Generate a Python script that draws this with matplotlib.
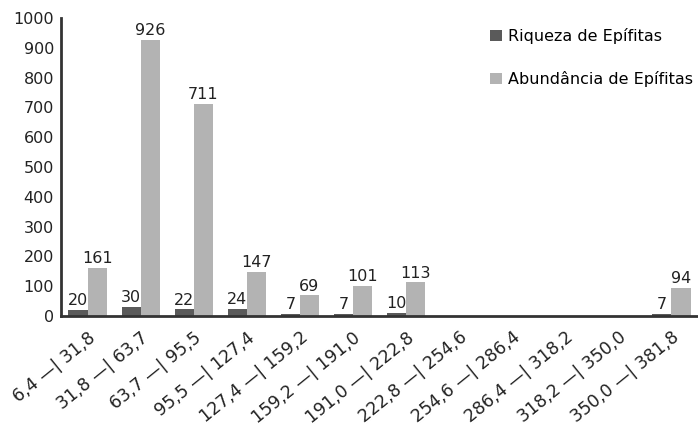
import matplotlib
matplotlib.use("Agg")
import matplotlib.pyplot as plt
import numpy as np

classes = ["6,4 —| 31,8", "31,8 —| 63,7", "63,7 —| 95,5", "95,5 —| 127,4",
           "127,4 —| 159,2", "159,2 —| 191,0", "191,0 —| 222,8", "222,8 —| 254,6",
           "254,6 —| 286,4", "286,4 —| 318,2", "318,2 —| 350,0", "350,0 —| 381,8"]
riqueza = [20, 30, 22, 24, 7, 7, 10, 0, 0, 0, 0, 7]
abundancia = [161, 926, 711, 147, 69, 101, 113, 0, 0, 0, 0, 94]

plt.rcParams['font.family'] = ['DejaVu Sans']
fig = plt.figure(figsize=(6.98, 4.28), dpi=100)
ax = fig.add_axes([61/698, 112/428, 637/698, 298/428])

x = np.arange(len(classes))
w = 0.36
c_dark = "#5a5a5a"
c_light = "#b3b3b3"
b1 = ax.bar(x - w/2, riqueza, w, color=c_dark, label="Riqueza de Epífitas")
b2 = ax.bar(x + w/2, abundancia, w, color=c_light, label="Abundância de Epífitas")

for bars, vals in ((b1, riqueza), (b2, abundancia)):
    for r, v in zip(bars, vals):
        if v > 0:
            ax.text(r.get_x() + r.get_width()/2, v + 6, str(v), ha="center",
                    va="bottom", fontsize=11.5, color="#222222")

ax.set_xlim(-0.5, len(classes) - 0.5)
ax.set_ylim(0, 1000)
ax.set_yticks(range(0, 1001, 100))
ax.set_xticks(x)
ax.set_xticklabels(classes, rotation=39, ha="right", rotation_mode="anchor",
                   fontsize=12.5, color="#222222")
ax.tick_params(axis="x", length=0, pad=9)
ax.tick_params(axis="y", length=0, labelsize=11.5, labelcolor="#222222", pad=5)
for s in ("top", "right"):
    ax.spines[s].set_visible(False)
for s in ("left", "bottom"):
    ax.spines[s].set_linewidth(2)
    ax.spines[s].set_color("#333333")

fig.legend(handles=[b1, b2], loc="upper left", bbox_to_anchor=(476/698, 1 - 14/428),
           frameon=False, fontsize=11.5, handlelength=0.7, handleheight=0.7,
           handletextpad=0.4, labelspacing=1.65)

fig.savefig("out.png", dpi=100)
